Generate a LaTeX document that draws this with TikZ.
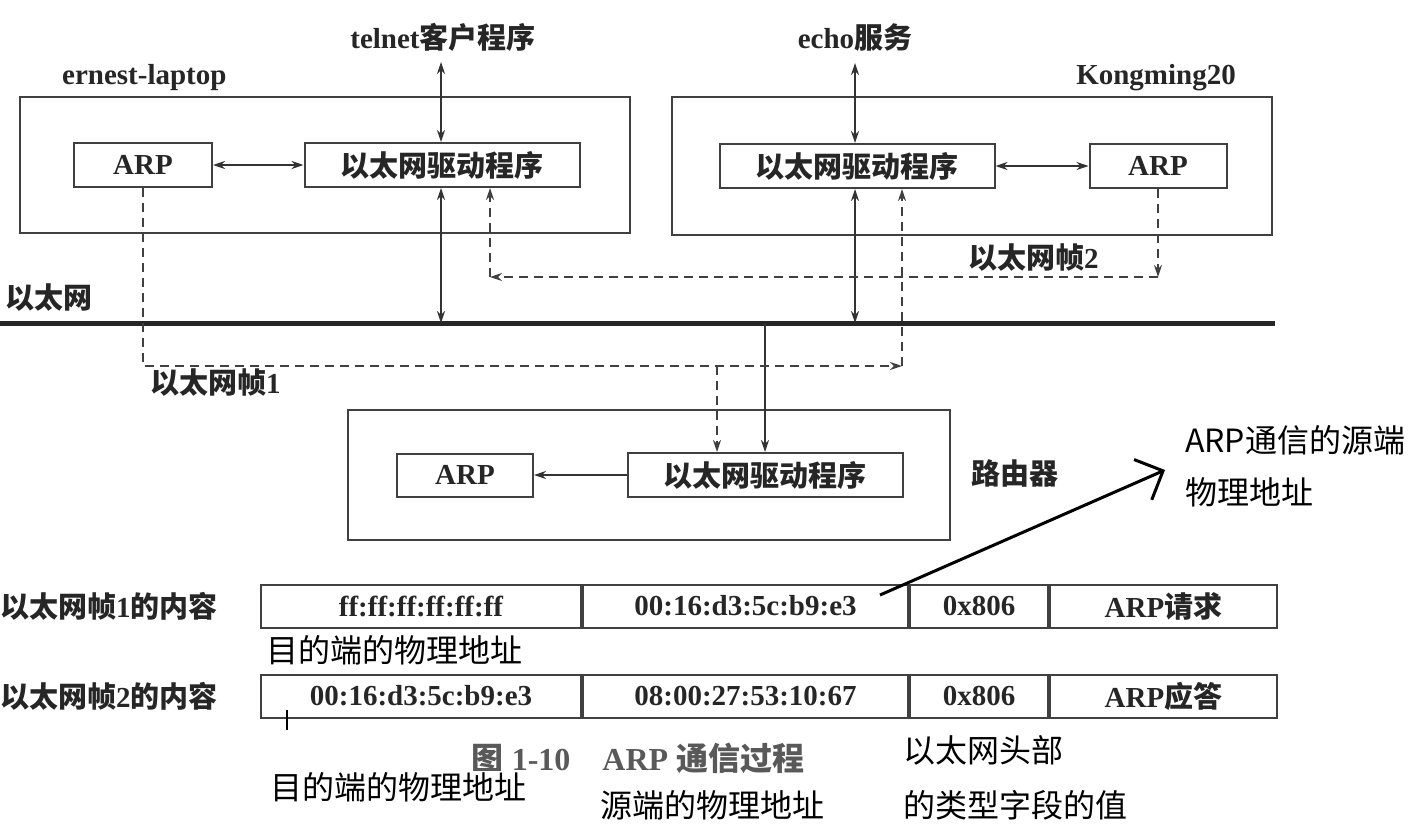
\documentclass[tikz,border=0pt]{standalone}
\usepackage{fontspec}
\setmainfont{Liberation Serif}
\newfontfamily\cjk{Noto Sans CJK SC}
\newcommand\zh[1]{{\cjk #1}}
\usetikzlibrary{arrows.meta,positioning}

\begin{document}
\begin{tikzpicture}[x=1pt,y=-1pt,
  figtext/.style={text=black!85,font=\fontsize{29}{31}\selectfont\bfseries,inner sep=0pt},
  hostbox/.style={draw=black!75,line width=2pt,minimum width=#1},
  unitbox/.style={draw=black!75,line width=2pt,figtext,minimum width=#1,minimum height=44},
  cell/.style={draw=black!75,line width=2pt,figtext,minimum width=#1,minimum height=43,anchor=west},
  link/.style={draw=black!80,line width=1.4pt,{Stealth[length=12pt,width=8pt]}-{Stealth[length=12pt,width=8pt]}},
  onelink/.style={draw=black!80,line width=1.4pt,-{Stealth[length=12pt,width=8pt]}},
  frameline/.style={draw=black!75,line width=1.5pt,dash pattern=on 9pt off 6pt,-{Stealth[length=12pt,width=8pt]}},
  note/.style={font=\fontsize{32}{52}\selectfont\cjk,inner sep=0pt,anchor=west}]
\useasboundingbox (0,0) rectangle (1419,835);

% hosts
\node[hostbox=610,minimum height=136] (laptop) at (325,165) {};
\node[hostbox=600,minimum height=138] (kongming) at (972,166) {};
\node[hostbox=602,minimum height=130] (router) at (649,475) {};
\node[figtext,anchor=west] (lapname) at (62,78) {ernest-laptop};
\node[figtext,anchor=east] (kmname) at (1236,78) {Kongming20};
\node[figtext] (rtname) at (1015,473) {\zh{路由器}};
\node[figtext] (telnet) at (443,37) {telnet\zh{客户程序}};
\node[figtext] (echo) at (855,37) {echo\zh{服务}};

% modules
\node[unitbox=138] (arpL) at (143,165) {ARP};
\node[unitbox=275] (drvL) at (442,165) {\zh{以太网驱动程序}};
\node[unitbox=275] (drvR) at (857,166) {\zh{以太网驱动程序}};
\node[unitbox=137] (arpR) at (1158,166) {ARP};
\node[unitbox=136,minimum height=43] (arpRt) at (465,475) {ARP};
\node[unitbox=275] (drvRt) at (765,475) {\zh{以太网驱动程序}};

% ethernet
\coordinate (ethW) at (0,323);
\coordinate (ethE) at (1275,323);
\draw[line width=5pt,black!85] (ethW) -- (ethE);
\node[figtext,anchor=west] (ethname) at (5,298) {\zh{以太网}};

\draw[link] (441,62) -- (441,0 |- drvL.north);
\draw[link] (441,0 |- drvL.south) -- (441,0 |- ethW);
\draw[link] ([yshift=-12pt]echo.south) -- (echo.south |- drvR.north);
\draw[link] (echo.south |- drvR.south) -- (echo.south |- ethW);
\draw[link] (arpL) -- (drvL);
\draw[link] (drvR) -- (arpR);
\draw[onelink] (drvRt.north |- ethW) -- (drvRt.north);
\draw[onelink] (drvRt) -- (arpRt);

% frame 1
\coordinate (f1row) at (0,366);
\coordinate (f1turn) at (902,366);
\coordinate (f1drop) at (717,366);
\draw[frameline] (arpL.south) |- (f1turn);
\draw[frameline] (f1turn) -- (f1turn |- drvR.south);
\draw[frameline] (f1drop) -- (f1drop |- drvRt.north);
\node[figtext,anchor=west] (f1name) at (150,383) {\zh{以太网帧}1};

% frame 2
\coordinate (f2row) at (0,277);
\coordinate (f2turnR) at (arpR.south |- f2row);
\coordinate (f2turnL) at (490,277);
\draw[frameline] (arpR.south) -- (f2turnR);
\draw[frameline] (f2turnR) -- (f2turnL);
\draw[frameline] (f2turnL) -- (f2turnL |- drvL.south);
\node[figtext,anchor=west] (f2name) at (968,258) {\zh{以太网帧}2};

% frame contents
\node[figtext,anchor=west] (row1) at (0,606) {\zh{以太网帧}1\zh{的内容}};
\node[cell=320] (a1) at (260,606) {ff:ff:ff:ff:ff:ff};
\node[cell=325,right=0pt of a1] (a2) {00:16:d3:5c:b9:e3};
\node[cell=138,right=0pt of a2] (a3) {0x806};
\node[cell=227,right=0pt of a3] (a4) {ARP\zh{请求}};
\node[figtext,anchor=west] (row2) at (0,696) {\zh{以太网帧}2\zh{的内容}};
\node[cell=320] (b1) at (260,696) {00:16:d3:5c:b9:e3};
\node[cell=325,right=0pt of b1] (b2) {08:00:27:53:10:67};
\node[cell=138,right=0pt of b2] (b3) {0x806};
\node[cell=227,right=0pt of b3] (b4) {ARP\zh{应答}};
\node[figtext,text=black!65,font=\fontsize{32}{34}\selectfont\bfseries] (caption) at (638,758) {\zh{图} 1-10\quad ARP \zh{通信过程}};

% notes
\node[note] (dst1) at (266,650) {目的端的物理地址};
\node[note,fill=white,inner sep=1pt] (dst2) at (269,787) {目的端的物理地址};
\node[note] (srcnote) at (600,805) {源端的物理地址};
\node[note] (typenote1) at (903,750) {以太网头部};
\node[note] (typenote2) at (903,805) {的类型字段的值};
\node[note,align=left] (arpnote) at (1185,466) {ARP通信的源端\\物理地址};
\coordinate (dstmark) at (287,710);
\draw[line width=2pt] (dstmark) -- ++(0,20);
\coordinate (srcmark) at (880,595);
\draw[line width=3pt,-{Straight Barb[length=22pt,width=44pt,line width=3pt]}] (srcmark) -- ([xshift=-20pt,yshift=-4pt]arpnote.west);
\end{tikzpicture}
\end{document}
